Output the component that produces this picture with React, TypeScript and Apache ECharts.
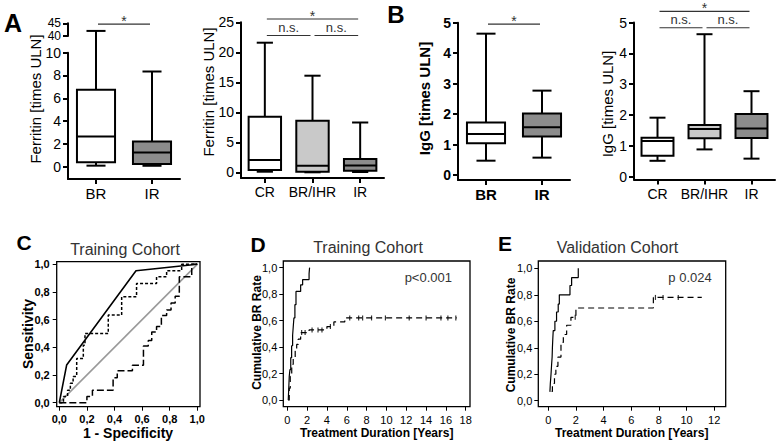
import React, { useEffect, useRef } from 'react';
import * as echarts from 'echarts';

const FONT = '"Liberation Sans", Arial, Helvetica, sans-serif';

// ---------------- Panel A (left): Ferritin, BR vs IR ----------------
const ferritinTwoCats = ['BR', 'IR'];
const ferritinTwoMin = [0.09, 0.08];
const ferritinTwoQ1 = [0.38, 0.24];
const ferritinTwoMedian = [2.65, 1.24];
const ferritinTwoQ3 = [6.76, 2.2];
const ferritinTwoMax = [42.0, 8.35];
const ferritinLowerTicks = [0, 2, 4, 6, 8, 10];
const ferritinUpperTicks = [40, 45];
const ferritinUpperLabelHigh = [45];
const ferritinUpperLabelLow = [40];
const ferritinTwoSigFrom = ['BR'];
const ferritinTwoSigTo = ['IR'];
const ferritinTwoSigLevel = [44.7];
const ferritinTwoSigText = ['*'];

// ---------------- Panel A (right): Ferritin, CR / BR/IHR / IR ----------------
const ferritinThreeCats = ['CR', 'BR/IHR', 'IR'];
const ferritinThreeMin = [0.1, 0.0, 0.05];
const ferritinThreeQ1 = [0.38, 0.1, 0.27];
const ferritinThreeMedian = [2.05, 1.1, 1.15];
const ferritinThreeQ3 = [9.27, 8.6, 2.2];
const ferritinThreeMax = [21.6, 16.1, 8.3];
const ferritinThreeTicks = [0, 5, 10, 15, 20, 25];
const ferritinThreeSigFrom = ['CR', 'CR', 'BR/IHR'];
const ferritinThreeSigTo = ['IR', 'BR/IHR', 'IR'];
const ferritinThreeSigLevel = [25.55, 22.8, 22.8];
const ferritinThreeSigText = ['*', 'n.s.', 'n.s.'];

// ---------------- Panel B (left): IgG, BR vs IR ----------------
const iggTwoCats = ['BR', 'IR'];
const iggTwoMin = [0.47, 0.57];
const iggTwoQ1 = [1.04, 1.26];
const iggTwoMedian = [1.35, 1.57];
const iggTwoQ3 = [1.72, 2.02];
const iggTwoMax = [4.64, 2.77];
const iggTicks = [0, 1, 2, 3, 4, 5];
const iggTwoSigFrom = ['BR'];
const iggTwoSigTo = ['IR'];
const iggTwoSigLevel = [4.95];
const iggTwoSigText = ['*'];

// ---------------- Panel B (right): IgG, CR / BR/IHR / IR ----------------
const iggThreeCats = ['CR', 'BR/IHR', 'IR'];
const iggThreeMin = [0.51, 0.88, 0.58];
const iggThreeQ1 = [0.67, 1.24, 1.25];
const iggThreeMedian = [1.15, 1.54, 1.56];
const iggThreeQ3 = [1.26, 1.67, 2.03];
const iggThreeMax = [1.91, 4.62, 2.77];
const iggThreeSigFrom = ['CR', 'CR', 'BR/IHR'];
const iggThreeSigTo = ['IR', 'BR/IHR', 'IR'];
const iggThreeSigLevel = [5.36, 4.83, 4.83];
const iggThreeSigText = ['*', 'n.s.', 'n.s.'];

// ---------------- Panel C: ROC, training cohort ----------------
const rocTicks = [0, 0.2, 0.4, 0.6, 0.8, 1.0];
const rocSolidFpr = [0, 0.053, 0.556, 1.0];
const rocSolidTpr = [0, 0.272, 0.954, 1.0];
const rocShortDashFpr = [0, 0.03, 0.06, 0.08, 0.1, 0.126, 0.174, 0.186, 0.355, 0.452, 0.56, 0.705, 0.778, 0.887, 1.0];
const rocShortDashTpr = [0, 0.045, 0.09, 0.14, 0.19, 0.32, 0.416, 0.5, 0.633, 0.766, 0.862, 0.91, 0.954, 1.0, 1.0];
const rocLongDashFpr = [0, 0.2, 0.24, 0.39, 0.42, 0.53, 0.61, 0.645, 0.67, 0.705, 0.74, 0.778, 0.81, 0.84, 0.87, 0.96, 1.0];
const rocLongDashTpr = [0, 0.045, 0.09, 0.18, 0.23, 0.27, 0.41, 0.45, 0.51, 0.55, 0.63, 0.67, 0.72, 0.77, 0.91, 1.0, 1.0];
const rocDiagonalFpr = [0, 1];
const rocDiagonalTpr = [0, 1];

// ---------------- Panel D: cumulative BR rate, training cohort ----------------
const kmTrainXTicks = [0, 2, 4, 6, 8, 10, 12, 14, 16, 18];
const kmYTicks = [0, 0.2, 0.4, 0.6, 0.8, 1.0];
const kmTrainSolidT = [0.1, 0.15, 0.2, 0.27, 0.35, 0.44, 0.54, 0.6, 0.67, 0.77, 0.88, 1.35, 1.55, 2.2, 2.25];
const kmTrainSolidR = [0, 0.09, 0.18, 0.23, 0.32, 0.41, 0.49, 0.55, 0.62, 0.72, 0.82, 0.87, 0.91, 0.955, 1.0];
const kmTrainDashT = [0.1, 0.2, 0.3, 0.45, 0.6, 0.8, 0.95, 1.1, 1.35, 2.2, 4.0, 4.7, 5.8, 17.1];
const kmTrainDashR = [0, 0.09, 0.18, 0.27, 0.32, 0.37, 0.42, 0.46, 0.51, 0.53, 0.555, 0.59, 0.62, 0.62];
const kmTrainCensT = [1.45, 1.8, 2.5, 3.1, 3.5, 4.35, 6.3, 7.2, 7.6, 8.5, 9.9, 12.3, 14.0, 15.5, 16.2, 17.0];
const kmTrainCensR = [0.51, 0.51, 0.53, 0.53, 0.53, 0.555, 0.62, 0.62, 0.62, 0.62, 0.62, 0.62, 0.62, 0.62, 0.62, 0.62];

// ---------------- Panel E: cumulative BR rate, validation cohort ----------------
const kmValXTicks = [0, 2, 4, 6, 8, 10, 12];
const kmValSolidT = [0.12, 0.15, 0.2, 0.24, 0.28, 0.3, 0.33, 0.36, 0.48, 0.6, 0.72, 0.8, 1.57, 1.69, 2.17];
const kmValSolidR = [0.067, 0.13, 0.2, 0.27, 0.33, 0.4, 0.47, 0.53, 0.6, 0.67, 0.73, 0.8, 0.87, 0.93, 1.0];
const kmValDashT = [0.24, 0.3, 0.45, 0.55, 0.7, 0.92, 1.09, 1.33, 1.64, 2.0, 7.6, 11.1];
const kmValDashR = [0.07, 0.13, 0.2, 0.26, 0.33, 0.44, 0.5, 0.57, 0.63, 0.7, 0.78, 0.78];
const kmValCensT = [1.95, 7.75, 8.3, 9.4];
const kmValCensR = [0.63, 0.78, 0.78, 0.78];

// ---------------- Layout / style constants ----------------
const FILL_TWO = ['#ffffff', '#8c8c8c'];
const FILL_THREE = ['#ffffff', '#c9c9c9', '#8c8c8c'];
const BOX_WIDTH_RATIO = 0.68;
const CAP_RATIO = 0.5;
const SIG_INSET = 2;

// Broken axis of panel A-left: lower grid (-1.08..10) and upper grid (40..45)
const A_LOWER_TOP = 52.7;
const A_AXIS_Y = 179;
const A_UPPER_TOP = 23.3;
const A_UPPER_BOTTOM = 36;
const A_LOWER_MIN = -1.08;
const A_LOWER_MAX = 10;
const A_UPPER_MIN = 40;
const A_UPPER_MAX = 45;
const lowerPx = (A_AXIS_Y - A_LOWER_TOP) / (A_LOWER_MAX - A_LOWER_MIN);
const upperPx = (A_UPPER_BOTTOM - A_UPPER_TOP) / (A_UPPER_MAX - A_UPPER_MIN);
const brokenY = (v: number) =>
  v <= A_LOWER_MAX ? v : A_LOWER_MAX + ((A_LOWER_TOP - A_UPPER_BOTTOM) + (v - A_UPPER_MIN) * upperPx) / lowerPx;
const identity = (v: number) => v;

const zip = (a: number[], b: number[]) => a.map((v, i) => [v, b[i]]);
const commaFmt = (v: number) => v.toFixed(1).replace('.', ',');

function boxData(min: number[], q1: number[], med: number[], q3: number[], max: number[]) {
  return min.map((_, i) => [i, min[i], q1[i], med[i], q3[i], max[i]]);
}

function makeBoxRender(fills: string[], mapY: (v: number) => number) {
  return (params: any, api: any) => {
    const i = api.value(0);
    const band = api.size([1, 0])[0];
    const w = band * BOX_WIDTH_RATIO;
    const cw = w * CAP_RATIO;
    const cx = api.coord([i, 0])[0];
    const py = (k: number) => api.coord([i, mapY(api.value(k))])[1];
    const yMin = py(1), yQ1 = py(2), yMed = py(3), yQ3 = py(4), yMax = py(5);
    const ls = { stroke: '#000', lineWidth: 2 };
    return {
      type: 'group',
      children: [
        { type: 'line', shape: { x1: cx, y1: yMin, x2: cx, y2: yQ1 }, style: ls },
        { type: 'line', shape: { x1: cx, y1: yQ3, x2: cx, y2: yMax }, style: ls },
        { type: 'line', shape: { x1: cx - cw / 2, y1: yMin, x2: cx + cw / 2, y2: yMin }, style: ls },
        { type: 'line', shape: { x1: cx - cw / 2, y1: yMax, x2: cx + cw / 2, y2: yMax }, style: ls },
        {
          type: 'rect',
          shape: { x: cx - w / 2, y: yQ3, width: w, height: yQ1 - yQ3 },
          style: { fill: fills[params.dataIndex], stroke: '#000', lineWidth: 2 },
        },
        { type: 'line', shape: { x1: cx - w / 2, y1: yMed, x2: cx + w / 2, y2: yMed }, style: ls },
      ],
    };
  };
}

function sigData(cats: string[], from: string[], to: string[], level: number[]) {
  return from.map((f, i) => [cats.indexOf(f), cats.indexOf(to[i]), level[i]]);
}

function makeSigRender(texts: string[]) {
  return (params: any, api: any) => {
    const a = api.coord([api.value(0), api.value(2)]);
    const b = api.coord([api.value(1), api.value(2)]);
    const t = texts[params.dataIndex];
    const isStar = t === '*';
    return {
      type: 'group',
      children: [
        {
          type: 'line',
          shape: { x1: a[0] + SIG_INSET, y1: a[1], x2: b[0] - SIG_INSET, y2: b[1] },
          style: { stroke: '#333', lineWidth: 1.2 },
        },
        {
          type: 'text',
          x: (a[0] + b[0]) / 2,
          y: isStar ? a[1] - 3.5 : a[1] - 8,
          style: {
            text: t,
            textAlign: 'center',
            textVerticalAlign: 'middle',
            font: `${isStar ? 14 : 13}px ${FONT}`,
            fill: '#333',
          },
        },
      ],
    };
  };
}

function boxX(gridIndex: number, cats: string[], fontSize: number, bold = false, show = true) {
  return {
    type: 'category',
    gridIndex,
    data: cats,
    show,
    boundaryGap: true,
    axisLine: { show: true, onZero: false, lineStyle: { color: '#000', width: 2 } },
    axisTick: { show: true, alignWithLabel: true, length: 5, lineStyle: { color: '#000', width: 2 } },
    axisLabel: {
      interval: 0,
      hideOverlap: false,
      fontSize,
      color: '#000',
      fontFamily: FONT,
      fontWeight: bold ? 'bold' : 'normal',
      margin: 7,
    },
    splitLine: { show: false },
  };
}

function boxY(
  gridIndex: number,
  min: number,
  max: number,
  ticks: number[],
  bold = false,
  labels: number[] = ticks,
  showLine = true,
  padding: number[] | undefined = undefined,
) {
  return {
    type: 'value',
    gridIndex,
    position: 'left',
    min,
    max,
    axisLine: { show: showLine, onZero: false, lineStyle: { color: '#000', width: 2 } },
    axisTick: { show: showLine, length: 5, customValues: ticks, lineStyle: { color: '#000', width: 2 } },
    axisLabel: {
      customValues: labels,
      showMinLabel: true,
      showMaxLabel: true,
      hideOverlap: false,
      fontSize: padding ? 12 : 14,
      lineHeight: padding ? 12 : undefined,
      padding,
      color: '#000',
      fontFamily: FONT,
      fontWeight: bold ? 'bold' : 'normal',
      margin: 7,
    },
    splitLine: { show: false },
  };
}

function frameX(gridIndex: number, min: number, max: number, ticks: number[], bold: boolean, fmt: (v: number) => string, margin: number) {
  return {
    type: 'value',
    gridIndex,
    min,
    max,
    axisLine: { show: false, onZero: false },
    axisTick: { show: true, length: 4, customValues: ticks, lineStyle: { color: '#000', width: 1 } },
    axisLabel: {
      customValues: ticks,
      showMinLabel: true,
      showMaxLabel: true,
      formatter: fmt,
      fontSize: 11,
      color: '#000',
      fontFamily: FONT,
      fontWeight: bold ? 'bold' : 'normal',
      margin,
    },
    splitLine: { show: false },
  };
}

function frameY(gridIndex: number, min: number, max: number, ticks: number[], bold: boolean, margin: number) {
  return {
    type: 'value',
    gridIndex,
    min,
    max,
    axisLine: { show: false, onZero: false },
    axisTick: { show: true, length: 4, customValues: ticks, lineStyle: { color: '#000', width: 1 } },
    axisLabel: {
      customValues: ticks,
      showMinLabel: true,
      showMaxLabel: true,
      formatter: commaFmt,
      fontSize: 11,
      color: '#000',
      fontFamily: FONT,
      fontWeight: bold ? 'bold' : 'normal',
      margin,
    },
    splitLine: { show: false },
  };
}

function txt(text: string, x: number, y: number, font: string, opts: any = {}) {
  return {
    type: 'text',
    x,
    y,
    rotation: opts.rotation || 0,
    style: {
      text,
      font,
      fill: opts.fill || '#000',
      textAlign: opts.align || 'center',
      textVerticalAlign: 'middle',
    },
  };
}

const frameGrid = { show: true, borderColor: '#000', borderWidth: 1.3, backgroundColor: 'transparent' };

function buildOption() {
  const grid = [
    { left: 68, top: A_LOWER_TOP, width: 112, height: A_AXIS_Y - A_LOWER_TOP },
    { left: 68, top: A_UPPER_TOP, width: 112, height: A_UPPER_BOTTOM - A_UPPER_TOP },
    { left: 241, top: 22.3, width: 143, height: 155.7 },
    { left: 458, top: 22.7, width: 112, height: 157.3 },
    { left: 634, top: 22.5, width: 141, height: 157 },
    { left: 56.7, top: 261.7, width: 143.3, height: 145, ...frameGrid },
    { left: 283.3, top: 261, width: 186.7, height: 145.7, ...frameGrid },
    { left: 538.3, top: 261, width: 187.4, height: 145.7, ...frameGrid },
  ];

  const xAxis = [
    boxX(0, ferritinTwoCats, 15),
    boxX(1, ferritinTwoCats, 15, false, false),
    boxX(2, ferritinThreeCats, 14),
    boxX(3, iggTwoCats, 15, true),
    boxX(4, iggThreeCats, 14),
    frameX(5, -0.019, 1.02, rocTicks, true, commaFmt, 7),
    frameX(6, -0.4, 18.43, kmTrainXTicks, false, (v: number) => String(v), 8),
    frameX(7, -0.72, 12.83, kmValXTicks, false, (v: number) => String(v), 8),
  ];

  const yAxis = [
    boxY(0, A_LOWER_MIN, A_LOWER_MAX, ferritinLowerTicks),
    boxY(1, A_UPPER_MIN, A_UPPER_MAX, ferritinUpperTicks, false, ferritinUpperLabelHigh, true, [0, 0, 4, 0]),
    boxY(2, -0.95, 25, ferritinThreeTicks),
    boxY(3, -0.164, 5, iggTicks, true),
    boxY(4, -0.097, 5, iggTicks),
    frameY(5, -0.029, 1.019, rocTicks, true, 7),
    frameY(6, -0.05, 1.05, kmYTicks, false, 6),
    frameY(7, -0.045, 1.055, kmYTicks, false, 6),
    // second label-only axis on the upper break grid so "40" and "45" both show
    boxY(1, A_UPPER_MIN, A_UPPER_MAX, ferritinUpperTicks, false, ferritinUpperLabelLow, false, [4, 0, 0, 0]),
  ];

  const boxSeries = (idx: number, data: number[][], fills: string[], mapY = identity) => ({
    type: 'custom',
    xAxisIndex: idx,
    yAxisIndex: idx,
    clip: false,
    data,
    renderItem: makeBoxRender(fills, mapY),
    z: 3,
  });
  const sigSeries = (idx: number, data: number[][], texts: string[]) => ({
    type: 'custom',
    xAxisIndex: idx,
    yAxisIndex: idx,
    clip: false,
    encode: { x: 0, y: 2 },
    data,
    renderItem: makeSigRender(texts),
    z: 3,
  });
  const lineSeries = (idx: number, data: number[][], color: string, width: number, type: any, step: any) => ({
    type: 'line',
    xAxisIndex: idx,
    yAxisIndex: idx,
    data,
    symbol: 'none',
    step,
    lineStyle: { color, width, type },
    z: 3,
  });
  const censorSeries = (idx: number, data: number[][]) => ({
    type: 'scatter',
    xAxisIndex: idx,
    yAxisIndex: idx,
    data,
    symbol: 'rect',
    symbolSize: [1.2, 5],
    itemStyle: { color: '#000' },
    z: 4,
  });

  const series: any[] = [
    boxSeries(0, boxData(ferritinTwoMin, ferritinTwoQ1, ferritinTwoMedian, ferritinTwoQ3, ferritinTwoMax), FILL_TWO, brokenY),
    sigSeries(1, sigData(ferritinTwoCats, ferritinTwoSigFrom, ferritinTwoSigTo, ferritinTwoSigLevel), ferritinTwoSigText),
    boxSeries(2, boxData(ferritinThreeMin, ferritinThreeQ1, ferritinThreeMedian, ferritinThreeQ3, ferritinThreeMax), FILL_THREE),
    sigSeries(2, sigData(ferritinThreeCats, ferritinThreeSigFrom, ferritinThreeSigTo, ferritinThreeSigLevel), ferritinThreeSigText),
    boxSeries(3, boxData(iggTwoMin, iggTwoQ1, iggTwoMedian, iggTwoQ3, iggTwoMax), FILL_TWO),
    sigSeries(3, sigData(iggTwoCats, iggTwoSigFrom, iggTwoSigTo, iggTwoSigLevel), iggTwoSigText),
    boxSeries(4, boxData(iggThreeMin, iggThreeQ1, iggThreeMedian, iggThreeQ3, iggThreeMax), FILL_THREE),
    sigSeries(4, sigData(iggThreeCats, iggThreeSigFrom, iggThreeSigTo, iggThreeSigLevel), iggThreeSigText),

    lineSeries(5, zip(rocDiagonalFpr, rocDiagonalTpr), '#9a9a9a', 1.6, 'solid', false),
    lineSeries(5, zip(rocLongDashFpr, rocLongDashTpr), '#000', 1.5, [7, 3], 'end'),
    lineSeries(5, zip(rocShortDashFpr, rocShortDashTpr), '#000', 1.5, [3, 2], 'end'),
    lineSeries(5, zip(rocSolidFpr, rocSolidTpr), '#000', 1.6, 'solid', false),

    lineSeries(6, zip(kmTrainSolidT, kmTrainSolidR), '#000', 1.2, 'solid', 'end'),
    lineSeries(6, zip(kmTrainDashT, kmTrainDashR), '#000', 1.2, [6, 4], 'end'),
    censorSeries(6, zip(kmTrainCensT, kmTrainCensR)),

    lineSeries(7, zip(kmValSolidT, kmValSolidR), '#000', 1.2, 'solid', 'end'),
    lineSeries(7, zip(kmValDashT, kmValDashR), '#000', 1.2, [6, 4], 'end'),
    censorSeries(7, zip(kmValCensT, kmValCensR)),
  ];

  const bold = (s: number) => `bold ${s}px ${FONT}`;
  const norm = (s: number) => `${s}px ${FONT}`;
  const R90 = Math.PI / 2;

  const graphic = [
    txt('A', 13, 22.5, bold(25)),
    txt('B', 396, 14, bold(24)),
    txt('C', 24, 242.5, bold(21)),
    txt('D', 258, 244, bold(21)),
    txt('E', 505, 243, bold(21)),

    txt('Ferritin [times ULN]', 35, 99, norm(15), { rotation: R90 }),
    txt('Ferritin [times ULN]', 208.5, 92, norm(15), { rotation: R90 }),
    txt('IgG [times ULN]', 424, 98.5, bold(15), { rotation: R90 }),
    txt('IgG [times ULN]', 607, 104, norm(15), { rotation: R90 }),

    txt('Training Cohort', 125, 249, norm(16), { fill: '#333' }),
    txt('Training Cohort', 368, 247, norm(16), { fill: '#333' }),
    txt('Validation Cohort', 617.5, 247, norm(16), { fill: '#333' }),

    txt('Sensitivity', 28, 334, bold(14), { rotation: R90 }),
    txt('1 - Specificity', 128, 433, bold(14)),
    txt('Cumulative BR Rate', 257, 332.5, bold(12), { rotation: R90 }),
    txt('Treatment Duration [Years]', 376.7, 433, bold(12)),
    txt('Cumulative BR Rate', 511, 335, bold(12), { rotation: R90 }),
    txt('Treatment Duration [Years]', 631.7, 433, bold(12)),

    txt('p<0.001', 452, 277, norm(13), { align: 'right', fill: '#333' }),
    txt('p 0.024', 711.7, 277.7, norm(13), { align: 'right', fill: '#333' }),
  ];

  return {
    animation: false,
    backgroundColor: '#fff',
    textStyle: { fontFamily: FONT },
    grid,
    xAxis,
    yAxis,
    series,
    graphic,
  };
}

export default function App() {
  const ref = useRef<HTMLDivElement>(null);
  useEffect(() => {
    if (!ref.current) return;
    const chart = echarts.init(ref.current, null, { renderer: 'svg' });
    chart.setOption(buildOption() as any);
    return () => chart.dispose();
  }, []);
  return (
    <div
      ref={ref}
      style={{ position: 'fixed', left: 0, top: 0, width: 779, height: 444, background: '#fff' }}
    />
  );
}
